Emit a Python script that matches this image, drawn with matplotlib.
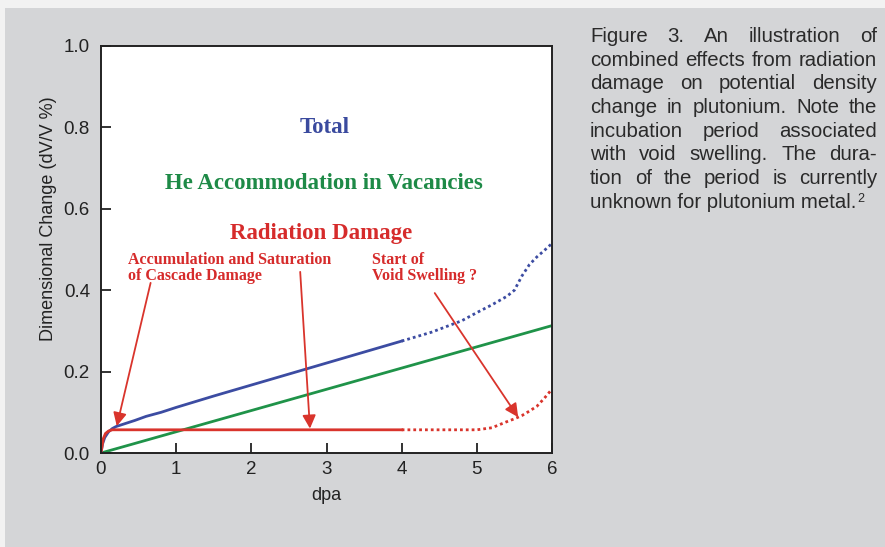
import matplotlib
matplotlib.use('Agg')
import matplotlib.pyplot as plt
from matplotlib.patches import Rectangle

# data (dpa vs dV/V %)
total_x = [0, 0.02, 0.05, 0.1, 0.15, 0.2, 0.3, 0.45, 0.6, 0.8, 1.0, 1.5, 2.0, 2.5, 3.0, 3.5, 4.0]
total_y = [0, 0.022, 0.038, 0.052, 0.06, 0.065, 0.071, 0.08, 0.09, 0.1, 0.112, 0.14, 0.167, 0.194, 0.221, 0.248, 0.275]
total_dot_x = [4.0, 4.4, 4.8, 5.0, 5.2, 5.4, 5.5, 5.6, 5.7, 5.8, 5.9, 6.0]
total_dot_y = [0.275, 0.297, 0.325, 0.345, 0.364, 0.385, 0.40, 0.435, 0.463, 0.482, 0.498, 0.515]

he_x = [0, 6]
he_y = [0, 0.313]

rad_x = [0, 0.03, 0.06, 0.1, 0.15, 0.2, 4.0]
rad_y = [0, 0.035, 0.048, 0.054, 0.057, 0.057, 0.057]
rad_dot_x = [4.0, 4.5, 5.0, 5.2, 5.4, 5.5, 5.6, 5.7, 5.8, 5.9, 6.0]
rad_dot_y = [0.057, 0.057, 0.057, 0.062, 0.077, 0.084, 0.092, 0.103, 0.115, 0.135, 0.157]

x_ticks = [0, 1, 2, 3, 4, 5, 6]
y_ticks = [0.0, 0.2, 0.4, 0.6, 0.8, 1.0]

caption = ['Figure 3. An illustration of',
           'combined effects from radiation',
           'damage on potential density',
           'change in plutonium. Note the',
           'incubation period associated',
           'with void swelling. The dura-',
           'tion of the period is currently',
           'unknown for plutonium metal.']

blue = '#3c4ca2'
green = '#1f9349'
red = '#d9342c'
blue_t = '#3a4a9e'
green_t = '#1e8a47'
red_t = '#d62b2b'

plt.rcParams['font.family'] = ['Liberation Sans', 'DejaVu Sans']

fig = plt.figure(figsize=(8.85, 5.47), dpi=100)
fig.patch.set_facecolor('#f2f2f2')
fig.add_artist(Rectangle((5 / 885, 0), 1, 1 - 8 / 547, transform=fig.transFigure,
                         facecolor='#d4d5d7', edgecolor='none', zorder=-5))

ax = fig.add_axes([101 / 885, 1 - 453 / 547, 451 / 885, 407 / 547])
ax.set_facecolor('white')

ax.plot(he_x, he_y, color=green, lw=2, solid_capstyle='butt')
ax.plot(total_x, total_y, color=blue, lw=2)
ax.plot(total_dot_x, total_dot_y, color=blue, lw=2, linestyle=(0, (1.0, 1.1)))
ax.plot(rad_x, rad_y, color=red, lw=2)
ax.plot(rad_dot_x, rad_dot_y, color=red, lw=2, linestyle=(0, (1.0, 1.1)))

ax.set_xlim(0, 6)
ax.set_ylim(0, 1.0)
ax.set_xticks(x_ticks)
ax.set_yticks(y_ticks)
ax.set_xticklabels([str(v) for v in x_ticks])
ax.set_yticklabels(['%.1f' % v for v in y_ticks])
ax.tick_params(direction='in', length=7, width=1.3, labelsize=13.5, color='#222222',
               labelcolor='#222222')
ax.tick_params(axis='x', pad=6)
ax.tick_params(axis='y', pad=8)
for s in ax.spines.values():
    s.set_linewidth(1.4)
    s.set_color('#222222')

ax.set_xlabel('dpa', fontsize=13, color='#222222', labelpad=6)
ax.set_ylabel('Dimensional Change (dV/V %)', fontsize=13, color='#222222')
ax.yaxis.set_label_coords(-0.097, 0.575)

serif = ['Liberation Serif', 'DejaVu Serif']
ax.text(2.98, 0.80, 'Total', color=blue_t, fontsize=16.5, fontweight='bold',
        family=serif, ha='center', va='center')
ax.text(2.97, 0.663, 'He Accommodation in Vacancies', color=green_t, fontsize=16.5,
        fontweight='bold', family=serif, ha='center', va='center')
ax.text(2.93, 0.54, 'Radiation Damage', color=red_t, fontsize=16.5, fontweight='bold',
        family=serif, ha='center', va='center')
ax.text(0.36, 0.455, 'Accumulation and Saturation\nof Cascade Damage', color=red_t,
        fontsize=11.5, fontweight='bold', family=serif, ha='left', va='center',
        linespacing=1.0)
ax.text(3.6, 0.455, 'Start of\nVoid Swelling ?', color=red_t, fontsize=11.5,
        fontweight='bold', family=serif, ha='left', va='center', linespacing=1.0)

arrows = [((0.66, 0.418), (0.21, 0.066)),
          ((2.65, 0.445), (2.78, 0.06)),
          ((4.44, 0.393), (5.55, 0.088))]
for start, tip in arrows:
    ax.annotate('', xy=tip, xytext=start,
                arrowprops=dict(arrowstyle='-|>', color=red, lw=1.3,
                                mutation_scale=20, shrinkA=0, shrinkB=0))

# justified caption on the right
fig.canvas.draw()
r = fig.canvas.get_renderer()
left_px, right_px = 590, 877
base0, step = 42, 23.7
cap_size = 14.7
cap_color = '#2a2a2a'
for i, line in enumerate(caption):
    y = 1 - (base0 + i * step) / 547
    words = line.split(' ')
    if i == len(caption) - 1:
        t = fig.text(left_px / 885, y, line, fontsize=cap_size, color=cap_color,
                     va='baseline', ha='left')
        bb = t.get_window_extent(r)
        fig.text(bb.x1 / 885 + 1 / 885, y + 6 / 547, '2', fontsize=9, color=cap_color,
                 va='baseline', ha='left')
        continue
    widths = []
    for w in words:
        t = fig.text(0, 0, w, fontsize=cap_size)
        widths.append(t.get_window_extent(r).width)
        t.remove()
    gap = (right_px - left_px - sum(widths)) / (len(words) - 1)
    x = left_px
    for w, wd in zip(words, widths):
        fig.text(x / 885, y, w, fontsize=cap_size, color=cap_color, va='baseline', ha='left')
        x += wd + gap

fig.savefig('out.png', dpi=100, facecolor=fig.get_facecolor())
